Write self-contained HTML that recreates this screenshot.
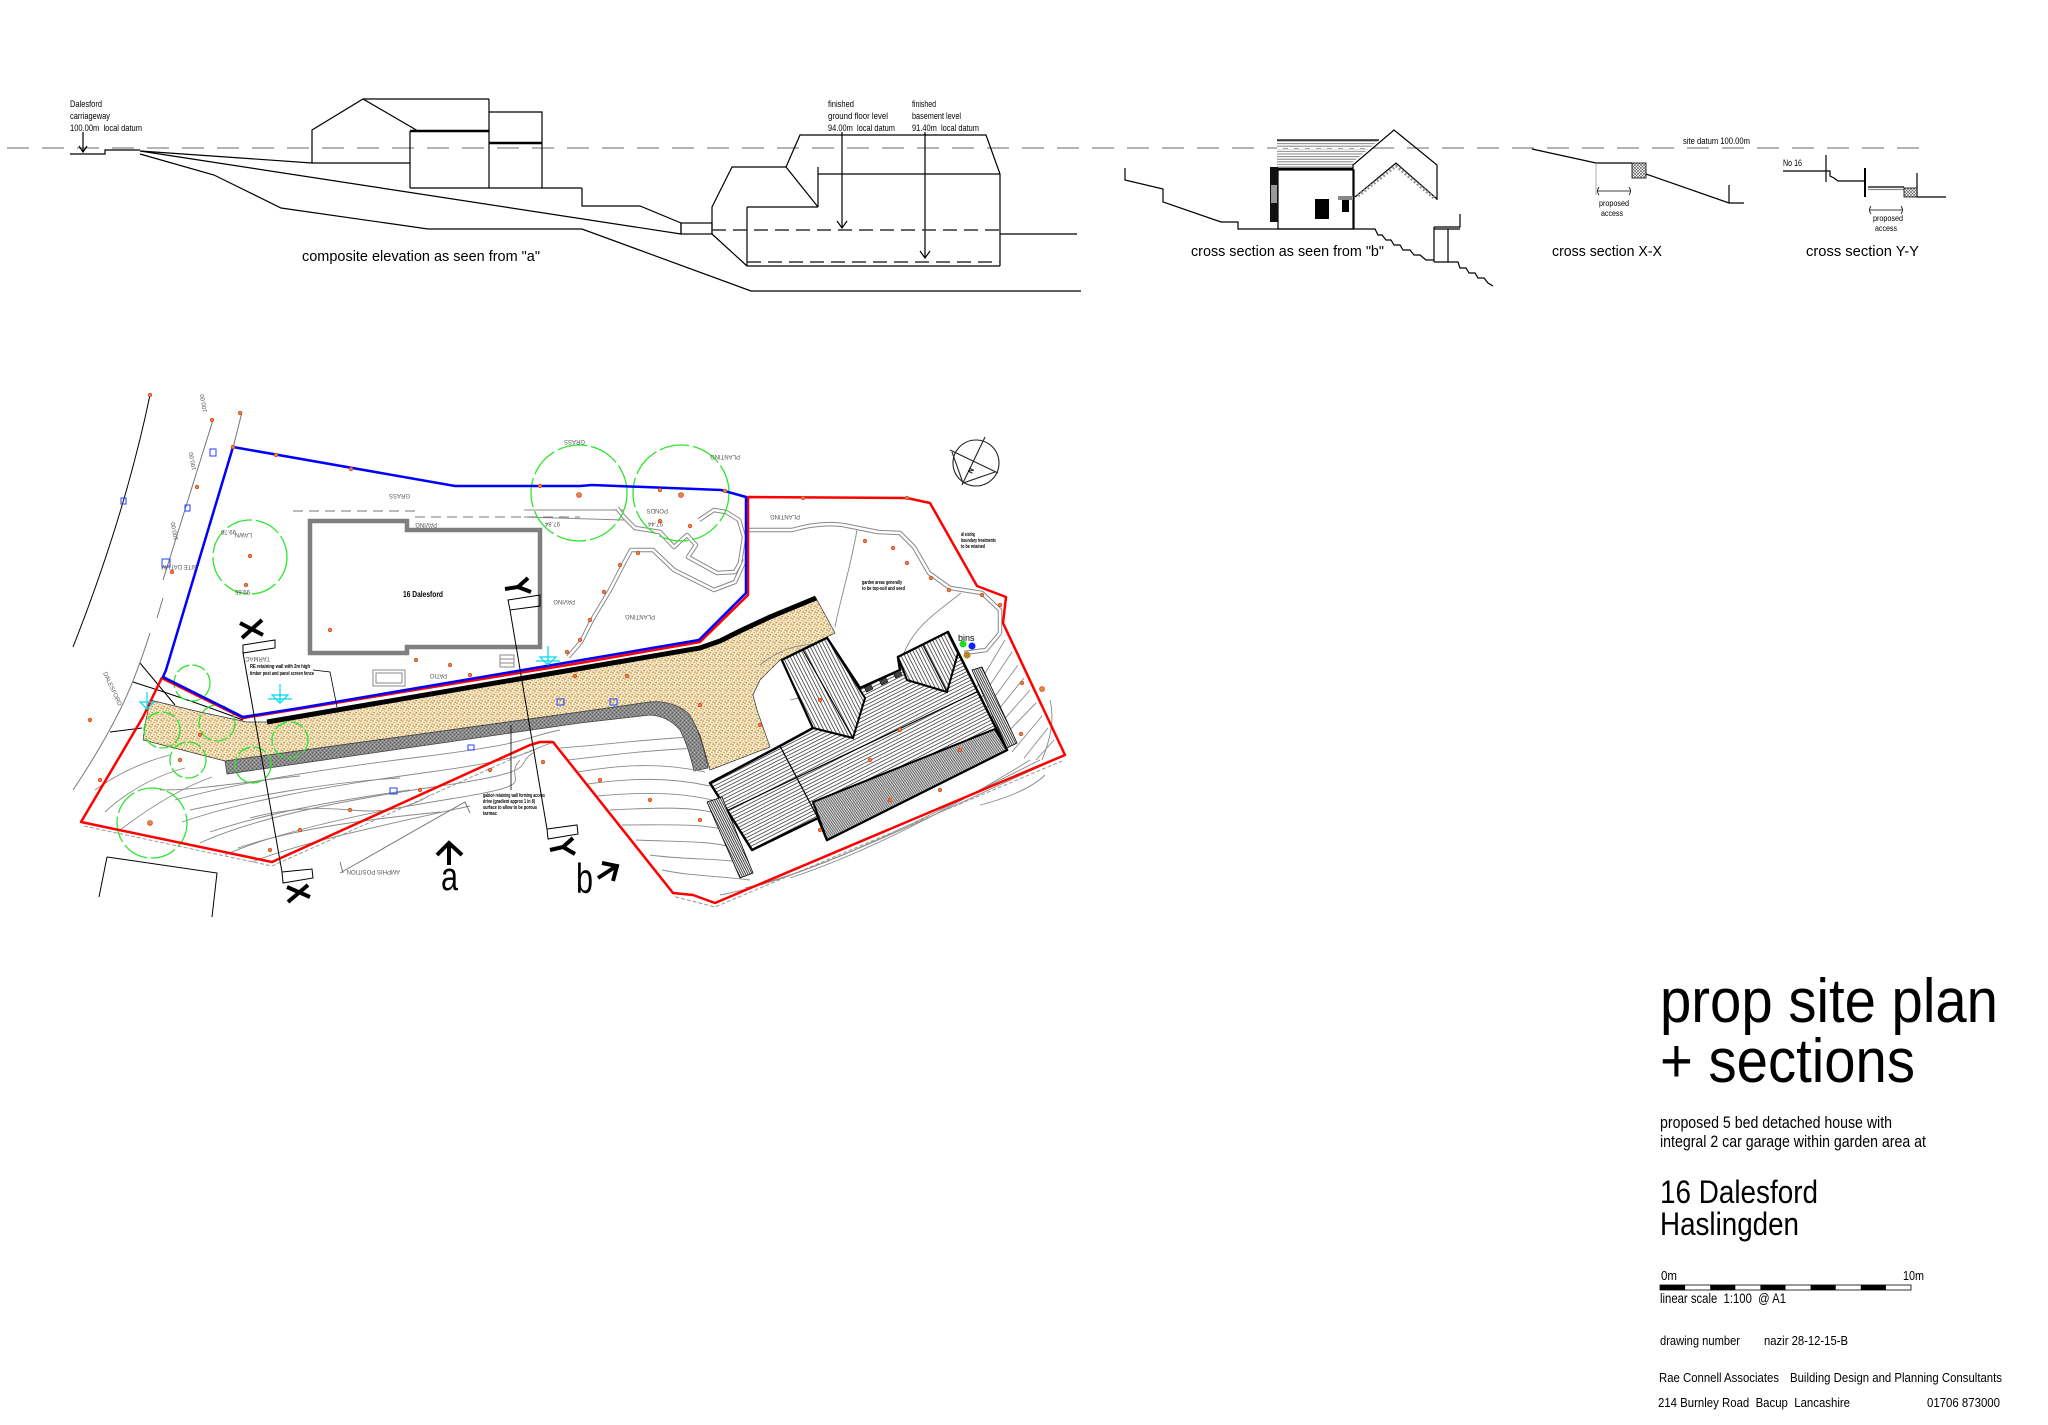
<!DOCTYPE html>
<html><head><meta charset="utf-8"><style>html,body{margin:0;padding:0;background:#fff}svg{display:block}text{font-family:"Liberation Sans",Arial,sans-serif}</style></head><body>
<svg width="2048" height="1425" viewBox="0 0 2048 1425" xmlns="http://www.w3.org/2000/svg">
<defs>
<pattern id="spk" width="6" height="6" patternUnits="userSpaceOnUse"><rect width="6" height="6" fill="#f4e9cc"/><circle cx="1" cy="1" r="0.8" fill="#c08a2a"/><circle cx="4" cy="2.5" r="0.75" fill="#d09a38"/><circle cx="2.2" cy="4.6" r="0.75" fill="#b07a20"/><circle cx="5.2" cy="5.2" r="0.6" fill="#c89838"/><circle cx="5" cy="0.4" r="0.55" fill="#a87020"/><circle cx="0.4" cy="3.2" r="0.5" fill="#c49030"/></pattern>
<pattern id="grv" width="4" height="4" patternUnits="userSpaceOnUse"><rect width="4" height="4" fill="#8a8a8a"/><rect x="0" y="0" width="1" height="1" fill="#555"/><rect x="2" y="2" width="1" height="1" fill="#5e5e5e"/><rect x="2" y="0" width="1" height="1" fill="#b5b5b5"/><rect x="0" y="2" width="1" height="1" fill="#a5a5a5"/></pattern>
<pattern id="hA" width="3.2" height="3.2" patternUnits="userSpaceOnUse" patternTransform="rotate(-27)"><rect width="3.2" height="3.2" fill="#fff"/><line x1="0" y1="0.5" x2="3.2" y2="0.5" stroke="#222" stroke-width="0.7"/></pattern>
<pattern id="hB" width="3.2" height="3.2" patternUnits="userSpaceOnUse" patternTransform="rotate(63)"><rect width="3.2" height="3.2" fill="#fff"/><line x1="0" y1="0.5" x2="3.2" y2="0.5" stroke="#222" stroke-width="0.7"/></pattern>
<pattern id="hC" width="2" height="2" patternUnits="userSpaceOnUse" patternTransform="rotate(55)"><rect width="2" height="2" fill="#ddd"/><line x1="0" y1="0.5" x2="2" y2="0.5" stroke="#333" stroke-width="0.7"/></pattern>
<pattern id="hS" width="2" height="2" patternUnits="userSpaceOnUse" patternTransform="rotate(63)"><rect width="2" height="2" fill="#fff"/><line x1="0" y1="0.5" x2="2" y2="0.5" stroke="#111" stroke-width="0.8"/></pattern>
<pattern id="hz" width="4" height="2.6" patternUnits="userSpaceOnUse"><rect width="4" height="2.6" fill="#fff"/><line x1="0" y1="0.6" x2="4" y2="0.6" stroke="#777" stroke-width="0.9"/></pattern>
<pattern id="xh" width="3" height="3" patternUnits="userSpaceOnUse"><rect width="3" height="3" fill="#fff"/><path d="M0,0L3,3M3,0L0,3" stroke="#555" stroke-width="0.6"/></pattern>
</defs>
<rect width="2048" height="1425" fill="#fff"/>

<!-- ================= TOP SECTIONS ================= -->
<line x1="7" y1="148" x2="1928" y2="148" stroke="#9a9a9a" stroke-width="1.5" stroke-dasharray="22 13"/>

<g stroke="#000" stroke-width="1.2" fill="none">
<polyline points="70,154 105,154 105,150 140,150"/>
<polyline points="140,151 312,163 410,163"/>
<line x1="140" y1="151" x2="681" y2="234"/>
<polyline points="140,154 214,175 281,208 428,229 582,229 751,291 1081,291"/>
<line x1="83" y1="132" x2="83" y2="152"/>
<polyline points="79,146 83,152 87,146"/>
<polyline points="312,163 312,130 363,99 418,131"/>
<line x1="363" y1="99" x2="489" y2="99"/>
<line x1="410" y1="131" x2="410" y2="188"/>
<line x1="489" y1="99" x2="489" y2="188"/>
<polyline points="489,112 542,112 542,188"/>
<line x1="410" y1="188" x2="582" y2="188"/>
<polyline points="582,188 582,206 640,206 681,223 681,234"/>
<rect x="681" y="223" width="31" height="11"/>
<polyline points="786,167 800,135 986,135 1000,174 1000,266"/>
<line x1="818" y1="174" x2="1000" y2="174"/>
<polyline points="712,234 712,207 732,167 786,167 818,207"/>
<line x1="818" y1="167" x2="818" y2="207"/>
<line x1="747" y1="207" x2="818" y2="207"/>
<line x1="747" y1="207" x2="747" y2="266"/>
<line x1="712" y1="234" x2="747" y2="266"/>
<line x1="747" y1="266" x2="1000" y2="266"/>
<line x1="1000" y1="234" x2="1077" y2="234"/>
<line x1="842" y1="132" x2="842" y2="228"/>
<polyline points="837,221 842,228 847,221"/>
<line x1="925" y1="132" x2="925" y2="258"/>
<polyline points="920,251 925,258 930,251"/>
</g>
<line x1="410" y1="131" x2="489" y2="131" stroke="#000" stroke-width="2.5"/>
<line x1="489" y1="143" x2="542" y2="143" stroke="#000" stroke-width="2.5"/>
<line x1="712" y1="230" x2="1000" y2="230" stroke="#333" stroke-width="1.5" stroke-dasharray="14 7"/>
<line x1="747" y1="262" x2="1000" y2="262" stroke="#333" stroke-width="1.5" stroke-dasharray="14 7"/>

<g font-size="9" fill="#000">
<text x="70" y="107" textLength="32" lengthAdjust="spacingAndGlyphs">Dalesford</text>
<text x="70" y="119" textLength="40" lengthAdjust="spacingAndGlyphs">carriageway</text>
<text x="70" y="131" textLength="72" lengthAdjust="spacingAndGlyphs">100.00m&#160; local datum</text>
<text x="828" y="107" textLength="26" lengthAdjust="spacingAndGlyphs">finished</text>
<text x="828" y="119" textLength="60" lengthAdjust="spacingAndGlyphs">ground floor level</text>
<text x="828" y="131" textLength="67" lengthAdjust="spacingAndGlyphs">94.00m&#160; local datum</text>
<text x="912" y="107" textLength="24" lengthAdjust="spacingAndGlyphs">finished</text>
<text x="912" y="119" textLength="49" lengthAdjust="spacingAndGlyphs">basement level</text>
<text x="912" y="131" textLength="67" lengthAdjust="spacingAndGlyphs">91.40m&#160; local datum</text>
<text x="1683" y="144" textLength="67" lengthAdjust="spacingAndGlyphs">site datum 100.00m</text>
<text x="1783" y="166" textLength="19" lengthAdjust="spacingAndGlyphs">No 16</text>
<text x="1599" y="206" font-size="8" textLength="30" lengthAdjust="spacingAndGlyphs">proposed</text>
<text x="1601" y="216" font-size="8" textLength="22" lengthAdjust="spacingAndGlyphs">access</text>
<text x="1873" y="221" font-size="8" textLength="30" lengthAdjust="spacingAndGlyphs">proposed</text>
<text x="1875" y="231" font-size="8" textLength="22" lengthAdjust="spacingAndGlyphs">access</text>
</g>
<g font-size="15" fill="#000">
<text x="302" y="261" textLength="238" lengthAdjust="spacingAndGlyphs">composite elevation as seen from "a"</text>
<text x="1191" y="256" textLength="193" lengthAdjust="spacingAndGlyphs">cross section as seen from "b"</text>
<text x="1552" y="256" textLength="110" lengthAdjust="spacingAndGlyphs">cross section X-X</text>
<text x="1806" y="256" textLength="113" lengthAdjust="spacingAndGlyphs">cross section Y-Y</text>
</g>

<!-- cross section b -->
<polygon points="1277,140 1379,140 1353,162 1353,169 1277,169" fill="url(#hz)"/>
<line x1="1277" y1="148" x2="1370" y2="148" stroke="#fff" stroke-width="2" stroke-dasharray="6 5"/>
<g stroke="#000" stroke-width="1.2" fill="none">
<polyline points="1125,168 1125,180 1163,189 1163,202 1221,222 1238,222 1238,229 1369,229"/>
<rect x="1278" y="170" width="76" height="59"/>
<line x1="1277" y1="140" x2="1379" y2="140"/>
<polyline points="1353,229 1353,165 1394,130 1437,165 1437,200"/>
<polyline points="1355,197 1396,163 1437,199"/>
<polyline points="1369,229 1375,229 1378,235 1382,235 1386,240 1391,240 1394,245 1400,245 1403,250 1410,250 1414,255 1420,255 1426,260 1434,260"/>
<line x1="1434" y1="227" x2="1434" y2="262"/>
<line x1="1448" y1="229" x2="1448" y2="262"/>
<polyline points="1434,227 1460,227 1460,214"/>
<line x1="1434" y1="229" x2="1460" y2="229"/>
<polyline points="1434,262 1448,262 1458,262 1460,268 1466,268 1469,273 1475,273 1478,278 1484,278 1488,283 1493,286"/>
</g>
<polyline points="1358,196 1396,166 1434,198" fill="none" stroke="#999" stroke-width="3" stroke-dasharray="2 2"/>
<line x1="1277" y1="169" x2="1353" y2="169" stroke="#000" stroke-width="2.5"/>
<rect x="1270" y="167" width="8" height="55" fill="#111"/>
<rect x="1271" y="185" width="6" height="18" fill="#999"/>
<rect x="1315" y="199" width="14" height="20" fill="#000"/>
<rect x="1342" y="200" width="7" height="12" fill="#000"/>
<rect x="1338" y="196" width="15" height="4" fill="#888"/>

<!-- cross section X-X -->
<g stroke="#000" stroke-width="1.2" fill="none">
<polyline points="1532,149 1596,163 1632,163"/>
<polyline points="1646,174 1729,203 1744,203"/>
<line x1="1729" y1="185" x2="1729" y2="203"/>
<line x1="1598" y1="191" x2="1630" y2="191" stroke-width="0.8"/>
<path d="M1599,187 Q1596,191 1599,195 M1629,187 Q1632,191 1629,195" stroke-width="0.8"/>
</g>
<line x1="1596" y1="163" x2="1596" y2="195" stroke="#999" stroke-width="0.8"/>
<rect x="1632" y="163" width="14" height="15" fill="url(#xh)" stroke="#000" stroke-width="0.8"/>

<!-- cross section Y-Y -->
<g stroke="#000" stroke-width="1.2" fill="none">
<line x1="1783" y1="171" x2="1826" y2="171"/>
<line x1="1826" y1="155" x2="1826" y2="182"/>
<polyline points="1826,171 1830,171 1830,176 1834,178 1838,181 1865,181"/>
<line x1="1865" y1="168" x2="1865" y2="197" stroke-width="2"/>
<line x1="1868" y1="187" x2="1904" y2="187"/>
<line x1="1868" y1="189.5" x2="1904" y2="189.5" stroke="#888"/>
<line x1="1917" y1="173" x2="1917" y2="197"/>
<line x1="1917" y1="197" x2="1946" y2="197"/>
<line x1="1870" y1="210" x2="1902" y2="210" stroke-width="0.8"/>
<path d="M1871,206 Q1868,210 1871,214 M1901,206 Q1904,210 1901,214" stroke-width="0.8"/>
</g>
<rect x="1904" y="188" width="13" height="9" fill="url(#xh)" stroke="#000" stroke-width="0.8"/>

<!-- ================= SITE PLAN ================= -->
<!-- speckled drive -->
<polygon points="150,700 200,712 247,722 267,722 700,648 720,641 740,631 770,617 816,598 835,633 800,650 780,660 760,680 753,695 757,710 770,747 710,770 700,735 690,717 680,709 667,703 650,702 580,712 225,761 190,752 143,740 146,720" fill="url(#spk)" stroke="#333" stroke-width="0.7"/>
<!-- gray gabion band -->
<path d="M225,761 L580,712 L650,702 Q672,700 688,713 Q700,728 708,768 L694,771 Q688,745 680,730 Q668,716 650,715 L580,723 L227,774 Z" fill="url(#grv)" stroke="#444" stroke-width="0.8"/>

<!-- contours -->
<g fill="none" stroke="#8a8a8a" stroke-width="0.9">
<path d="M175,800 C230,785 300,772 420,757 S520,738 560,730"/>
<path d="M182,822 C240,802 320,787 430,772 S525,750 555,742"/>
<path d="M200,843 C250,820 330,802 440,786 S510,765 535,752"/>
<path d="M225,855 C270,835 350,815 450,799 S500,782 520,760"/>
<path d="M252,862 C300,843 370,828 470,806"/>
<path d="M160,790 C200,790 250,781 300,776"/>
<path d="M120,830 Q170,792 212,777"/>
<path d="M105,812 Q140,780 185,768"/>
<path d="M250,818 Q300,805 350,810 T430,795"/>
<path d="M190,810 C260,795 330,782 400,778"/>
<path d="M210,832 C270,812 340,800 410,790"/>
<path d="M238,848 C290,830 360,820 440,812"/>
<path d="M95,790 Q130,765 170,755"/>
<path d="M560,748 C600,745 640,740 690,737"/>
<path d="M568,760 C610,755 650,750 700,748"/>
<path d="M578,772 C620,765 660,762 705,772"/>
<path d="M588,784 C630,778 670,777 710,786"/>
<path d="M598,796 C640,792 680,792 712,800"/>
<path d="M610,810 C650,808 690,806 715,813"/>
<path d="M622,825 C660,825 700,823 726,830"/>
<path d="M636,840 C670,842 710,840 735,848"/>
<path d="M650,855 C685,860 720,858 745,863"/>
<path d="M662,870 C690,876 720,876 750,880"/>
<path d="M720,895 C800,880 900,830 1050,762"/>
<path d="M745,888 C830,868 930,815 1040,760"/>
<path d="M790,878 C860,855 950,810 1030,760"/>
<path d="M1042,760 C1050,740 1055,720 1050,700"/>
<path d="M975,690 L1005,640"/>
<path d="M980,700 L1012,652"/>
<path d="M985,710 L1018,665"/>
<path d="M990,720 L1024,678"/>
<path d="M995,730 L1030,690"/>
<path d="M1000,740 L1036,703"/>
<path d="M1012,752 L1042,716"/>
<path d="M1024,758 L1048,728"/>
<path d="M1036,760 L1054,740"/>
<path d="M1045,775 C1030,790 1000,800 980,805"/>
<path d="M857,530 C850,570 840,600 835,627"/>
<path d="M961,593 C940,610 915,625 904,653"/>
<path d="M790,700 Q830,690 870,700"/>
<path d="M760,665 Q790,640 830,645"/>
<path d="M524,510 L624,510"/>
<path d="M524,517 L624,520"/>
</g>
<!-- garden paths (double lines) -->
<g fill="none" stroke-linejoin="round">
<g stroke="#888" stroke-width="4.5">
<path d="M568,657 L581,642 L592,620 L610,590 L624,563 L631,550 L653,550 L674,570 L714,590 L735,582 L745,560"/>
<path d="M617,508 L624,517 L635,528 L660,532 L674,547 L687,535 L696,545 L688,557 L717,573 L735,572 L740,563 L744,537 L739,520 L726,512 L714,510 L699,520"/>
<path d="M749,530 L792,530 Q820,522 843,525 L878,532 L900,533 L914,547 L929,573 L950,588 L982,593 L1000,610 L1000,633 L986,650 L964,653"/>
</g>
<g stroke="#fff" stroke-width="2.5">
<path d="M568,657 L581,642 L592,620 L610,590 L624,563 L631,550 L653,550 L674,570 L714,590 L735,582 L745,560"/>
<path d="M617,508 L624,517 L635,528 L660,532 L674,547 L687,535 L696,545 L688,557 L717,573 L735,572 L740,563 L744,537 L739,520 L726,512 L714,510 L699,520"/>
<path d="M749,530 L792,530 Q820,522 843,525 L878,532 L900,533 L914,547 L929,573 L950,588 L982,593 L1000,610 L1000,633 L986,650 L964,653"/>
</g>
</g>

<!-- road lines -->
<g fill="none" stroke="#000" stroke-width="1">
<path d="M150,395 Q125,515 73,647"/>
<path d="M140,663 L175,705"/>
<path d="M133,682 Q190,700 243,720"/>
<path d="M110,732 L142,728"/>
<path d="M107,857 L217,873 L212,917"/>
<path d="M107,857 L99,897"/>
</g>
<g fill="none" stroke="#777" stroke-width="1">
<path d="M213,420 L163,580"/>
<path d="M242,412 L233,448"/>
<path d="M163,598 L157,618"/>
<path d="M150,633 Q135,680 120,710 Q100,750 73,790"/>
<path d="M340,873 L465,802 L470,813"/>
<path d="M340,862 L343,873"/>
<path d="M293,511 L415,511 L415,517 L580,517" stroke-dasharray="10 6"/>
</g>
<!-- wavy edges -->
<g fill="none" stroke="#999" stroke-width="1" stroke-dasharray="4 2">
<path d="M84,826 L272,866 L532,750"/>
<path d="M556,746 L676,897 L715,907 L1062,761"/>
</g>

<!-- trees -->
<g fill="none" stroke="#2ee52e" stroke-width="1.3">
<circle cx="250" cy="557" r="37" stroke-dasharray="26 4"/>
<circle cx="579" cy="493" r="48" stroke-dasharray="30 4"/>
<circle cx="681" cy="493" r="48" stroke-dasharray="30 4"/>
<circle cx="192" cy="683" r="18" stroke-dasharray="14 3"/>
<circle cx="217" cy="723" r="18" stroke-dasharray="14 3"/>
<circle cx="162" cy="730" r="18" stroke-dasharray="14 3"/>
<circle cx="188" cy="760" r="18" stroke-dasharray="14 3"/>
<circle cx="290" cy="740" r="18" stroke-dasharray="14 3"/>
<circle cx="253" cy="765" r="18" stroke-dasharray="14 3"/>
<circle cx="152" cy="823" r="35" stroke-dasharray="26 4"/>
</g>

<!-- existing house -->
<polygon points="310,521 407,521 407,530 540,530 540,647 407,647 407,653 310,653" fill="none" stroke="#7f7f7f" stroke-width="4.5"/>
<g fill="none" stroke="#888" stroke-width="1">
<rect x="373" y="670" width="32" height="16"/>
<rect x="376" y="673" width="26" height="10"/>
<rect x="500" y="655" width="14" height="12"/>
<line x1="500" y1="659" x2="514" y2="659"/><line x1="500" y1="663" x2="514" y2="663"/>
</g>

<!-- boundaries -->
<polygon points="161.7,678 243,718 580,663 700,642 748,595 748,497 907,498 930,503 977,586 1006,597 1003,623 1065,755 715,903 693,895 673,893 553,742 540,742 530,745 272,862 81,822 143,717" fill="none" stroke="#ff0000" stroke-width="2.5" stroke-linejoin="round"/>
<polygon points="166,670 175,640 233,447 455,486 580,486 592,485 721,490 746,497 746,593 699,640 300,708 243,717 163,677" fill="none" stroke="#0000ff" stroke-width="2.5" stroke-linejoin="round"/>
<!-- retaining wall -->
<polyline points="267,722 700,648 720,641 740,631 770,617 816,598" fill="none" stroke="#000" stroke-width="5"/>

<!-- new building -->
<polygon points="710,783 780,746 813,728 782,660 827,638 860,688 900,670 898,657 948,632 1007,750 827,840 818,818 752,850" fill="url(#hA)" stroke="#000" stroke-width="2.5" stroke-linejoin="round"/>
<polygon points="813,802 995,729 1007,750 827,840" fill="url(#hC)" stroke="#000" stroke-width="2"/>
<polygon points="782,660 827,638 865,698 853,738 813,728" fill="url(#hB)" stroke="#000" stroke-width="2"/>
<polygon points="898,657 948,632 958,653 947,692 907,680" fill="url(#hB)" stroke="#000" stroke-width="2"/>
<g stroke="#000" stroke-width="1.2" fill="none">
<line x1="722" y1="813" x2="977" y2="692"/>
<line x1="803" y1="650" x2="853" y2="738"/>
<line x1="923" y1="645" x2="947" y2="692"/>
<line x1="780" y1="746" x2="818" y2="818"/>
</g>
<polygon points="707,802 722,797 753,873 740,878" fill="url(#hS)" stroke="#000" stroke-width="0.8"/>
<polygon points="972,670 982,667 1017,743 1007,748" fill="url(#hS)" stroke="#000" stroke-width="0.8"/>
<g fill="#444" stroke="#000" stroke-width="0.6">
<rect x="865" y="686" width="7" height="5" transform="rotate(-27 868 688)"/>
<rect x="880" y="679" width="7" height="5" transform="rotate(-27 883 681)"/>
<rect x="894" y="672" width="7" height="5" transform="rotate(-27 897 674)"/>
</g>

<!-- bins -->
<text x="958" y="641" font-size="9" fill="#000">bins</text>
<circle cx="963" cy="644" r="3.5" fill="#22dd22"/>
<circle cx="972" cy="646" r="3.5" fill="#1020ff"/>
<circle cx="967" cy="655" r="3.5" fill="#b8862a"/>

<!-- level dots -->
<g fill="#d89038" stroke="#e02020" stroke-width="0.6">
<circle cx="233" cy="447" r="1.8"/><circle cx="276" cy="455" r="1.8"/><circle cx="351" cy="469" r="1.8"/><circle cx="540" cy="486" r="1.8"/><circle cx="579" cy="495" r="2.5"/><circle cx="660" cy="490" r="1.8"/><circle cx="681" cy="495" r="2.5"/><circle cx="725" cy="491" r="1.8"/><circle cx="803" cy="498" r="1.8"/><circle cx="907" cy="498" r="1.8"/><circle cx="865" cy="541" r="1.8"/><circle cx="893" cy="548" r="1.8"/><circle cx="907" cy="563" r="1.8"/><circle cx="931" cy="578" r="1.8"/><circle cx="949" cy="590" r="1.8"/><circle cx="982" cy="595" r="1.8"/><circle cx="1000" cy="605" r="1.8"/><circle cx="660" cy="521" r="1.8"/><circle cx="690" cy="526" r="1.8"/><circle cx="638" cy="553" r="1.8"/><circle cx="620" cy="565" r="1.8"/><circle cx="604" cy="592" r="1.8"/><circle cx="590" cy="620" r="1.8"/><circle cx="580" cy="640" r="1.8"/><circle cx="567" cy="652" r="1.8"/><circle cx="250" cy="556" r="1.8"/><circle cx="246" cy="585" r="1.8"/><circle cx="330" cy="630" r="1.8"/><circle cx="416" cy="660" r="1.8"/><circle cx="450" cy="665" r="1.8"/><circle cx="470" cy="675" r="1.8"/><circle cx="575" cy="676" r="1.8"/><circle cx="627" cy="676" r="1.8"/><circle cx="700" cy="705" r="1.8"/><circle cx="760" cy="725" r="1.8"/><circle cx="820" cy="700" r="1.8"/><circle cx="870" cy="760" r="1.8"/><circle cx="900" cy="730" r="1.8"/><circle cx="960" cy="750" r="1.8"/><circle cx="940" cy="790" r="1.8"/><circle cx="890" cy="800" r="1.8"/><circle cx="820" cy="830" r="1.8"/><circle cx="700" cy="820" r="1.8"/><circle cx="650" cy="800" r="1.8"/><circle cx="600" cy="780" r="1.8"/><circle cx="543" cy="762" r="1.8"/><circle cx="490" cy="770" r="1.8"/><circle cx="420" cy="790" r="1.8"/><circle cx="350" cy="810" r="1.8"/><circle cx="300" cy="830" r="1.8"/><circle cx="270" cy="850" r="1.8"/><circle cx="180" cy="760" r="1.8"/><circle cx="200" cy="735" r="1.8"/><circle cx="150" cy="823" r="2.5"/><circle cx="100" cy="780" r="1.8"/><circle cx="90" cy="720" r="1.8"/><circle cx="150" cy="395" r="1.8"/><circle cx="212" cy="420" r="1.8"/><circle cx="240" cy="413" r="1.8"/><circle cx="197" cy="487" r="1.8"/><circle cx="172" cy="572" r="1.8"/><circle cx="1022" cy="683" r="1.8"/><circle cx="1042" cy="689" r="2.5"/><circle cx="1021" cy="734" r="1.8"/></g>

<!-- blue survey squares -->
<g fill="none" stroke="#2040ff" stroke-width="1">
<rect x="210" y="449" width="6" height="7"/><rect x="185" y="505" width="5" height="6"/><rect x="162" y="559" width="8" height="8"/><rect x="121" y="498" width="5" height="6"/><rect x="468" y="745" width="6" height="5"/><rect x="390" y="788" width="7" height="6"/><rect x="557" y="699" width="7" height="6"/><rect x="610" y="699" width="7" height="6"/>
</g>
<!-- cyan markers -->
<g fill="none" stroke="#00d8f0" stroke-width="1.2">
<path d="M272,695 L288,695 L280,703 Z M280,684 L280,703 M268,699 L292,699"/>
<path d="M540,657 L556,657 L548,665 Z M548,646 L548,665 M536,661 L560,661"/>
<path d="M140,702 L154,702 L147,709 Z M147,692 L147,709"/>
</g>

<!-- north symbol -->
<g fill="none" stroke="#222" stroke-width="1.1">
<circle cx="976" cy="463" r="23"/>
<line x1="950" y1="450" x2="998" y2="473"/>
<line x1="985" y1="437" x2="962" y2="485"/>
<polyline points="952,452 963,483 995,472"/>
</g>
<text x="0" y="0" font-size="7" font-weight="bold" transform="translate(972,474) rotate(-65)">N</text>

<!-- section markers -->
<g stroke="#000" fill="none">
<line x1="243" y1="653" x2="282" y2="872" stroke-width="1"/>
<line x1="510" y1="610" x2="547" y2="829" stroke-width="1"/>
<polygon points="243,645 275,640 275,648 243,653" stroke-width="1"/>
<polygon points="282,872 312,869 313,878 283,883" stroke-width="1"/>
<polygon points="508,600 540,595 540,606 510,610" stroke-width="1"/>
<polygon points="547,829 577,825 578,834 548,839" stroke-width="1"/>
<g stroke-width="4" stroke-linecap="butt">
<path d="M240,623 L263,635 M242,638 L262,620"/>
<path d="M287,887 L310,897 M288,902 L308,885"/>
<path d="M505,589 L518,587 L528,578 M518,587 L531,592"/>
<path d="M550,850 L563,847 L573,838 M563,847 L575,854"/>
<path d="M449,865 L449,845"/>
<path d="M437,855 L449,843 L462,855"/>
<path d="M598,878 L615,867"/>
<path d="M602,863 L617,866 L613,881"/>
</g>
</g>
<text x="441" y="890" font-size="40" textLength="17" lengthAdjust="spacingAndGlyphs">a</text>
<text x="576" y="893" font-size="42" textLength="17" lengthAdjust="spacingAndGlyphs">b</text>

<!-- plan labels -->
<text x="403" y="597" font-size="8" font-weight="bold" textLength="40" lengthAdjust="spacingAndGlyphs">16 Dalesford</text>
<g font-size="6" fill="#555">
<text transform="rotate(180 410 494)" x="410" y="494">GRASS</text>
<text transform="rotate(180 437 523)" x="437" y="523">PAVING</text>
<text transform="rotate(180 252 533)" x="252" y="533">LAWN</text>
<text transform="rotate(180 575 600)" x="575" y="600">PAVING</text>
<text transform="rotate(180 800 515)" x="800" y="515">PLANTING</text>
<text transform="rotate(180 668 509)" x="668" y="509">PONDS</text>
<text transform="rotate(180 655 615)" x="655" y="615">PLANTING</text>
<text transform="rotate(180 270 657)" x="270" y="657">TARMAC</text>
<text transform="rotate(180 447 674)" x="447" y="674">PATIO</text>
<text transform="rotate(180 740 455)" x="740" y="455">PLANTING</text>
<text transform="rotate(180 585 440)" x="585" y="440">GRASS</text>
<text transform="rotate(180 400 870)" x="400" y="870">AMPHIS POSITION</text>
<text transform="rotate(65 103 673)" x="103" y="673">DALESFORD</text>
<text transform="rotate(-100 207 412)" x="207" y="412">100.00</text>
<text transform="rotate(-100 196 470)" x="196" y="470">100.00</text>
<text transform="rotate(-100 178 540)" x="178" y="540">100.00</text>
<text transform="rotate(180 236 530)" x="236" y="530">99.78</text>
<text transform="rotate(180 250 590)" x="250" y="590">99.65</text>
<text transform="rotate(180 197 565)" x="197" y="565">SITE DATUM</text>
<text transform="rotate(180 560 522)" x="560" y="522">97.84</text>
<text transform="rotate(180 663 522)" x="663" y="522">97.44</text>
</g>
<g font-size="5" font-weight="bold" fill="#000">
<text x="250" y="668" textLength="60" lengthAdjust="spacingAndGlyphs">RE retaining wall with 2m high</text>
<text x="250" y="675" textLength="64" lengthAdjust="spacingAndGlyphs">timber post and panel screen fence</text>
<text x="483" y="797" textLength="62" lengthAdjust="spacingAndGlyphs">gabion retaining wall forming access</text>
<text x="483" y="803" textLength="52" lengthAdjust="spacingAndGlyphs">drive (gradient approx 1 in 8)</text>
<text x="483" y="809" textLength="54" lengthAdjust="spacingAndGlyphs">surface to allow to be porous</text>
<text x="483" y="815" textLength="14" lengthAdjust="spacingAndGlyphs">tarmac</text>
<text x="961" y="536" textLength="14" lengthAdjust="spacingAndGlyphs">all existing</text>
<text x="961" y="542" textLength="35" lengthAdjust="spacingAndGlyphs">boundary treatments</text>
<text x="961" y="548" textLength="24" lengthAdjust="spacingAndGlyphs">to be retained</text>
<text x="862" y="584" textLength="40" lengthAdjust="spacingAndGlyphs">garden areas generally</text>
<text x="862" y="590" textLength="43" lengthAdjust="spacingAndGlyphs">to be top-soil and seed</text>
</g>
<g stroke="#000" stroke-width="0.8" fill="none">
<polyline points="313,670 330,672 337,707"/>
<line x1="511" y1="725" x2="511" y2="790"/>
</g>

<!-- ================= TITLE BLOCK ================= -->
<g fill="#000">
<text x="1660" y="1022" font-size="62" textLength="338" lengthAdjust="spacingAndGlyphs">prop site plan</text>
<text x="1660" y="1082" font-size="62" textLength="255" lengthAdjust="spacingAndGlyphs">+ sections</text>
<text x="1660" y="1128" font-size="17" textLength="232" lengthAdjust="spacingAndGlyphs">proposed 5 bed detached house with</text>
<text x="1660" y="1147" font-size="17" textLength="266" lengthAdjust="spacingAndGlyphs">integral 2 car garage within garden area at</text>
<text x="1660" y="1203" font-size="32" textLength="158" lengthAdjust="spacingAndGlyphs">16 Dalesford</text>
<text x="1660" y="1235" font-size="32" textLength="139" lengthAdjust="spacingAndGlyphs">Haslingden</text>
<text x="1661" y="1280" font-size="13" textLength="16" lengthAdjust="spacingAndGlyphs">0m</text>
<text x="1903" y="1280" font-size="13" textLength="21" lengthAdjust="spacingAndGlyphs">10m</text>
<text x="1660" y="1303" font-size="14" textLength="126" lengthAdjust="spacingAndGlyphs">linear scale&#160; 1:100&#160; @ A1</text>
<text x="1660" y="1345" font-size="13" textLength="80" lengthAdjust="spacingAndGlyphs">drawing number</text>
<text x="1764" y="1345" font-size="13" textLength="84" lengthAdjust="spacingAndGlyphs">nazir 28-12-15-B</text>
<text x="1659" y="1382" font-size="13" textLength="120" lengthAdjust="spacingAndGlyphs">Rae Connell Associates</text>
<text x="1790" y="1382" font-size="13" textLength="212" lengthAdjust="spacingAndGlyphs">Building Design and Planning Consultants</text>
<text x="1658" y="1407" font-size="13" textLength="192" lengthAdjust="spacingAndGlyphs">214 Burnley Road&#160; Bacup&#160; Lancashire</text>
<text x="1927" y="1407" font-size="13" textLength="73" lengthAdjust="spacingAndGlyphs">01706 873000</text>
</g>
<rect x="1660" y="1285" width="251" height="5" fill="#fff" stroke="#000" stroke-width="0.8"/>
<g fill="#000">
<rect x="1660" y="1285" width="25.1" height="5"/>
<rect x="1710.2" y="1285" width="25.1" height="5"/>
<rect x="1760.4" y="1285" width="25.1" height="5"/>
<rect x="1810.6" y="1285" width="25.1" height="5"/>
<rect x="1860.8" y="1285" width="25.1" height="5"/>
</g>
</svg>
</body></html>
